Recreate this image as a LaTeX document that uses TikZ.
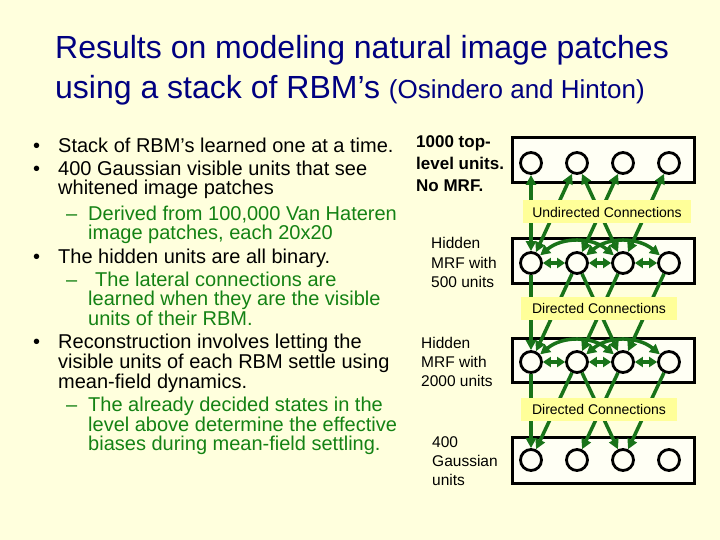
\documentclass[tikz,border=0pt]{standalone}
\usepackage{fontspec}
\setmainfont{Liberation Sans}
\usetikzlibrary{arrows.meta}
\definecolor{bg}{HTML}{FFFFDD}
\definecolor{navy}{RGB}{0,0,128}
\definecolor{subgreen}{RGB}{20,130,20}
\definecolor{conn}{RGB}{25,115,25}
\definecolor{lbl}{HTML}{FFFF99}
\definecolor{boxfill}{HTML}{FFFFF4}
\begin{document}
\begin{tikzpicture}[x=1pt,y=-1pt,
  txt/.style={anchor=base west, inner sep=0pt, font=\fontsize{20}{24}\selectfont},
  bul/.style={txt, text=black},
  sub/.style={txt, text=subgreen},
  rlab/.style={anchor=base west, inner sep=0pt, font=\fontsize{15.5}{18}\selectfont},
  rbold/.style={anchor=base west, inner sep=0pt, font=\fontsize{17}{20}\selectfont\bfseries},
  layer/.style={draw=black, line width=3pt, fill=boxfill},
  unit/.style={circle, draw=black, line width=2.8pt, fill=boxfill, minimum size=21pt, inner sep=0pt},
  conline/.style={draw=conn, line width=3.5pt},
  dirarr/.style={conline, -{Triangle[length=10pt,width=10pt]}},
  undarr/.style={conline, {Triangle[length=10pt,width=10pt]}-{Triangle[length=10pt,width=10pt]}},
  latarr/.style={conline, {Triangle[length=8pt,width=10pt]}-{Triangle[length=8pt,width=10pt]}},
  lab/.style={fill=lbl, inner sep=0pt, minimum height=23pt, font=\fontsize{14}{16}\selectfont}
]
\useasboundingbox (0,0) rectangle (720,540);
\fill[bg] (0,0) rectangle (720,540);

% title
\node[anchor=base west, inner sep=0pt, text=navy, font=\fontsize{32}{36}\selectfont] (t1) at (55,59) {Results on modeling natural image patches};
\node[anchor=base west, inner sep=0pt, text=navy, font=\fontsize{32}{36}\selectfont] (t2) at (55,99) {using a stack of RBM’s {\fontsize{26}{30}\selectfont(Osindero and Hinton)}};

% bullets
\node[bul] (d1) at (33,153) {•};
\node[bul] (l1) at (58,153) {Stack of RBM’s learned one at a time.};
\node[bul] (d2) at (33,176) {•};
\node[bul] (l2) at (58,176) {400 Gaussian visible units that see};
\node[bul] (l3) at (58,195) {whitened image patches};
\node[sub] (s1) at (66,221) {–};
\node[sub] (l4) at (88,221) {Derived from 100,000 Van Hateren};
\node[sub] (l5) at (88,240) {image patches, each 20x20};
\node[bul] (d3) at (33,263) {•};
\node[bul] (l6) at (58,263) {The hidden units are all binary.};
\node[sub] (s2) at (66,286) {–};
\node[sub] (l7) at (95,286) {The lateral connections are};
\node[sub] (l8) at (88,305) {learned when they are the visible};
\node[sub] (l9) at (88,325) {units of their RBM.};
\node[bul] (d4) at (33,348) {•};
\node[bul] (l10) at (58,348) {Reconstruction involves letting the};
\node[bul] (l11) at (58,368) {visible units of each RBM settle using};
\node[bul] (l12) at (58,388) {mean-field dynamics.};
\node[sub] (s3) at (66,411) {–};
\node[sub] (l13) at (88,411) {The already decided states in the};
\node[sub] (l14) at (88,431) {level above determine the effective};
\node[sub] (l15) at (88,450) {biases during mean-field settling.};

% right labels
\node[rbold] (r1) at (416,148) {1000 top-};
\node[rbold] (r2) at (416,170) {level units.};
\node[rbold] (r3) at (416,192) {No MRF.};
\node[rlab] (r4) at (431,248) {Hidden};
\node[rlab] (r5) at (431,268) {MRF with};
\node[rlab] (r6) at (431,287) {500 units};
\node[rlab] (r7) at (421,348) {Hidden};
\node[rlab] (r8) at (421,367) {MRF with};
\node[rlab] (r9) at (421,386) {2000 units};
\node[rlab] (r10) at (432,447) {400};
\node[rlab] (r11) at (432,466) {Gaussian};
\node[rlab] (r12) at (432,485) {units};

% layer boxes
\draw[layer] (512,138) rectangle (694,183);
\draw[layer] (512,238) rectangle (694,283);
\draw[layer] (512,338) rectangle (694,382);
\draw[layer] (512,437) rectangle (694,483);

% units
\foreach \i/\x in {1/531,2/577,3/623,4/669}{
  \node[unit] (a\i) at (\x,163) {};
  \node[unit] (b\i) at (\x,263) {};
  \node[unit] (c\i) at (\x,362) {};
  \node[unit] (e\i) at (\x,460) {};
}

% undirected connections top -> b
\draw[undarr] (a1) -- (b1);
\draw[undarr] (a2) -- (b1);
\draw[undarr] (a3) -- (b2);
\draw[undarr] (a2) -- (b3);
\draw[undarr] (a4) -- (b3);
% directed b -> c
\draw[dirarr] (b1) -- (c1);
\draw[dirarr] (b2) -- (c1);
\draw[dirarr] (b3) -- (c2);
\draw[dirarr] (b2) -- (c3);
\draw[dirarr] (b4) -- (c3);
% directed c -> e
\draw[dirarr] (c1) -- (e1);
\draw[dirarr] (c2) -- (e1);
\draw[dirarr] (c3) -- (e2);
\draw[dirarr] (c2) -- (e3);
\draw[dirarr] (c4) -- (e3);

% lateral connections
\foreach \L in {b,c}{
  \draw[latarr] (\L1) -- (\L2);
  \draw[latarr] (\L2) -- (\L3);
  \draw[latarr] (\L3) -- (\L4);
  \draw[undarr] (\L1) to[bend left=40] (\L3);
  \draw[undarr] (\L2) to[bend left=40] (\L4);
}

% labels
\node[lab, minimum width=168pt] (u) at (607,212) {Undirected Connections};
\node[lab, minimum width=156pt] (v1) at (599,308) {Directed Connections};
\node[lab, minimum width=156pt] (v2) at (599,409) {Directed Connections};
\end{tikzpicture}
\end{document}
